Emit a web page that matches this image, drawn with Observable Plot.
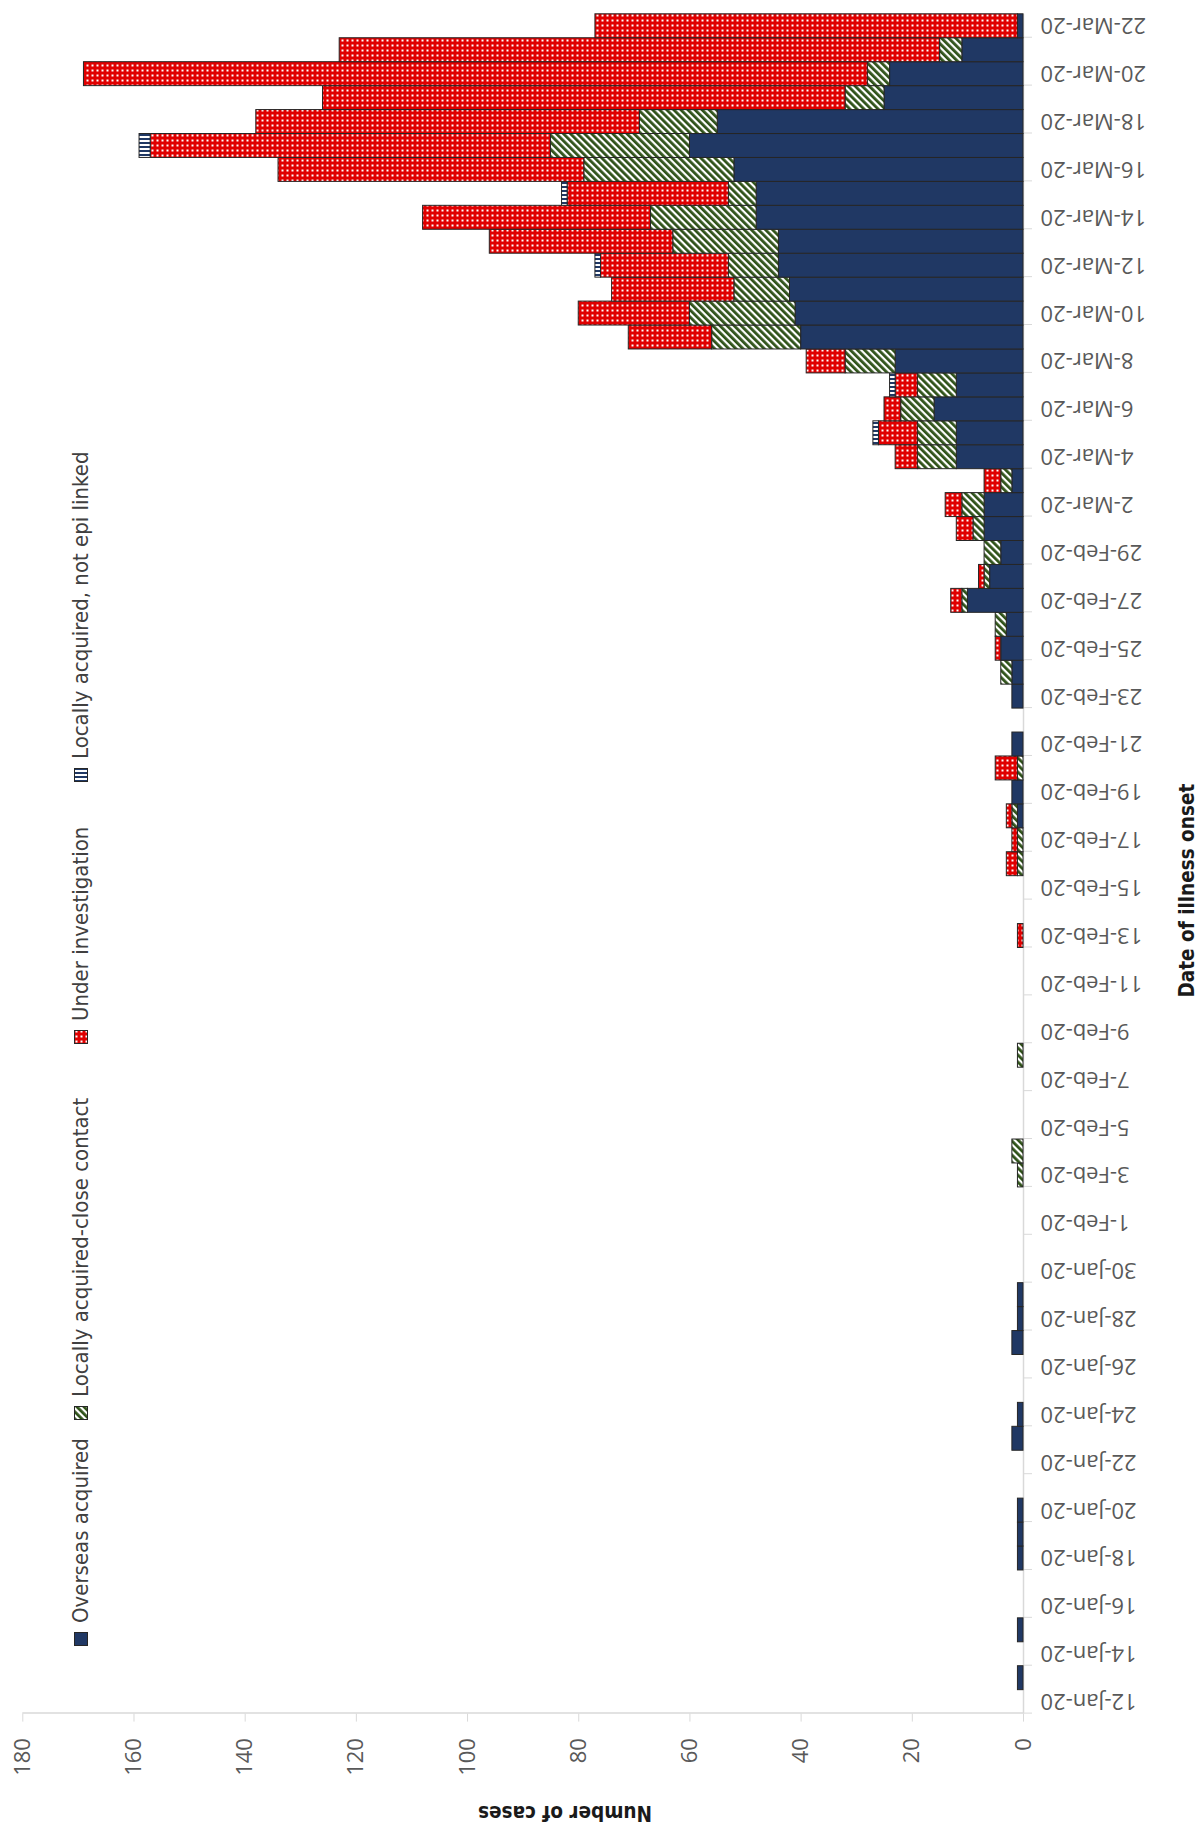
<!DOCTYPE html>
<html>
<head>
<meta charset="utf-8">
<script src="https://cdn.jsdelivr.net/npm/d3@7"></script>
<script src="https://cdn.jsdelivr.net/npm/@observablehq/plot@0.6"></script>
<style>
  html, body { margin: 0; padding: 0; background: #fff; width: 1200px; height: 1828px; overflow: hidden; }
  #stage { position: absolute; left: 0; top: 0; width: 1828px; height: 1200px; transform-origin: 0 0; transform: translate(0, 1828px) rotate(-90deg); background: #fff; }
  #chart { position: absolute; left: 0; top: 0; }
  .title { position: absolute; white-space: nowrap; font-family: "DejaVu Sans Condensed", "DejaVu Sans", sans-serif; font-weight: bold; font-size: 20.5px; line-height: 1; color: #1a1a1a; transform: translate(-50%, -50%); }
  #ytitle { transform: translate(-50%, -50%) rotate(-90deg); }
  .lg { position: absolute; display: flex; align-items: center; white-space: nowrap; font-family: "DejaVu Sans Condensed", "DejaVu Sans", sans-serif; font-size: 22px; line-height: 1; color: #404040; transform: translateY(-50%); }
  .lg svg { margin-right: 9px; flex: none; }
</style>
</head>
<body>
<div id="stage">
  <div id="chart"></div>
  <div id="legend"></div>
  <div class="title" id="ytitle">Number of cases</div>
  <div class="title" id="xtitle">Date of illness onset</div>
</div>
<script>
// ---- data (index 0 = 12-Jan-2020 ... index 70 = 22-Mar-2020) ----
const dates = [
  "2020-01-12","2020-01-13","2020-01-14","2020-01-15","2020-01-16","2020-01-17","2020-01-18","2020-01-19","2020-01-20","2020-01-21",
  "2020-01-22","2020-01-23","2020-01-24","2020-01-25","2020-01-26","2020-01-27","2020-01-28","2020-01-29","2020-01-30","2020-01-31",
  "2020-02-01","2020-02-02","2020-02-03","2020-02-04","2020-02-05","2020-02-06","2020-02-07","2020-02-08","2020-02-09","2020-02-10",
  "2020-02-11","2020-02-12","2020-02-13","2020-02-14","2020-02-15","2020-02-16","2020-02-17","2020-02-18","2020-02-19","2020-02-20",
  "2020-02-21","2020-02-22","2020-02-23","2020-02-24","2020-02-25","2020-02-26","2020-02-27","2020-02-28","2020-02-29","2020-03-01",
  "2020-03-02","2020-03-03","2020-03-04","2020-03-05","2020-03-06","2020-03-07","2020-03-08","2020-03-09","2020-03-10","2020-03-11",
  "2020-03-12","2020-03-13","2020-03-14","2020-03-15","2020-03-16","2020-03-17","2020-03-18","2020-03-19","2020-03-20","2020-03-21",
  "2020-03-22"
];
const overseasAcquired = [
  0,1,0,1,0,0,1,1,1,0,
  0,2,1,0,0,2,1,1,0,0,
  0,0,0,0,0,0,0,0,0,0,
  0,0,0,0,0,0,0,1,2,0,
  2,0,2,2,4,3,10,6,4,7,
  7,2,12,12,16,12,23,40,41,42,
  44,44,48,48,52,60,55,25,24,11,
  1
];
const closeContact = [
  0,0,0,0,0,0,0,0,0,0,
  0,0,0,0,0,0,0,0,0,0,
  0,0,1,2,0,0,0,1,0,0,
  0,0,0,0,0,1,1,1,0,1,
  0,0,0,2,0,2,1,1,3,2,
  4,2,7,7,6,7,9,16,19,10,
  9,19,19,5,27,25,14,7,4,4,
  0
];
const underInvestigation = [
  0,0,0,0,0,0,0,0,0,0,
  0,0,0,0,0,0,0,0,0,0,
  0,0,0,0,0,0,0,0,0,0,
  0,0,1,0,0,2,1,1,0,4,
  0,0,0,0,1,0,2,1,0,3,
  3,3,4,7,3,4,7,15,20,22,
  23,33,41,29,55,72,69,94,141,108,
  76
];
const notEpiLinked = [
  0,0,0,0,0,0,0,0,0,0,
  0,0,0,0,0,0,0,0,0,0,
  0,0,0,0,0,0,0,0,0,0,
  0,0,0,0,0,0,0,0,0,0,
  0,0,0,0,0,0,0,0,0,0,
  0,0,0,1,0,1,0,0,0,0,
  1,0,0,1,0,2,0,0,0,0,
  0
];
const seriesNames = [
  "Overseas acquired",
  "Locally acquired-close contact",
  "Under investigation",
  "Locally acquired, not epi linked"
];
const valueTicks = [0, 20, 40, 60, 80, 100, 120, 140, 160, 180];
const tickLabelFormat = "%-d-%b-%y";

// ---- build table ----
const seriesValues = [overseasAcquired, closeContact, underInvestigation, notEpiLinked];
const parse = d3.utcParse("%Y-%m-%d");
const dayStarts = dates.map(parse);
const table = [];
dayStarts.forEach((d0, i) => {
  const d1 = d3.utcDay.offset(d0, 1);
  seriesNames.forEach((name, k) => {
    const v = seriesValues[k][i];
    if (v > 0) table.push({d0, d1, cat: name, value: v});
  });
});
const tickDates = dayStarts.filter((d, i) => i % 2 === 0);
const labelDates = tickDates.map(d => d3.utcHour.offset(d, 12));
const fills = ["#203864", "url(#pGreen)", "url(#pRed)", "url(#pStripe)"];

const chart = Plot.plot({
  width: 1828,
  height: 1200,
  marginLeft: 114.4,
  marginRight: 13.8,
  marginTop: 22.3,
  marginBottom: 177,
  style: {fontFamily: "'Open Sans', sans-serif", background: "white", color: "#595959"},
  x: {type: "utc", domain: [dayStarts[0], d3.utcDay.offset(dayStarts[dayStarts.length - 1], 1)]},
  y: {domain: [0, 180]},
  color: {type: "ordinal", domain: seriesNames, range: fills},
  marks: [
    Plot.ruleY([0], {stroke: "#d9d9d9", strokeWidth: 1.5}),
    Plot.ruleX([dayStarts[0]], {stroke: "#d9d9d9", strokeWidth: 1.5}),
    Plot.axisY({ticks: valueTicks, tickSize: 8, tickPadding: 17, stroke: "#d9d9d9", fill: "#595959", fontSize: 22, label: null}),
    Plot.axisX({ticks: tickDates, tickSize: 9, tickFormat: () => "", stroke: "#d9d9d9", label: null}),
    Plot.axisX({ticks: labelDates, tickSize: 0, tickPadding: 17, tickRotate: -90, tickFormat: d3.utcFormat(tickLabelFormat), fill: "#595959", fontSize: 22, label: null}),
    Plot.rectY(table, {x1: "d0", x2: "d1", y: "value", fill: "cat", stroke: "#262626", strokeWidth: 1, inset: 0})
  ]
});

const ns = "http://www.w3.org/2000/svg";
const defs = document.createElementNS(ns, "defs");
defs.innerHTML = `
  <pattern id="pRed" width="5" height="5" patternUnits="userSpaceOnUse">
    <rect width="5" height="5" fill="#e00000"/>
    <rect x="1.5" y="1.5" width="2" height="2" fill="#ffffff"/>
  </pattern>
  <pattern id="pGreen" width="5" height="5" patternUnits="userSpaceOnUse" patternTransform="rotate(45)">
    <rect width="5" height="5" fill="#ffffff"/>
    <rect width="2.8" height="5" fill="#2f5219"/>
  </pattern>
  <pattern id="pStripe" width="4" height="4" patternUnits="userSpaceOnUse">
    <rect width="4" height="4" fill="#ffffff"/>
    <rect width="2" height="4" fill="#203864"/>
  </pattern>`;
chart.insertBefore(defs, chart.firstChild);
document.getElementById("chart").appendChild(chart);

// ---- legend (layout only) ----
const legendLeft = [182, 408, 784, 1046];
const legend = document.getElementById("legend");
seriesNames.forEach((name, k) => {
  const item = document.createElement("div");
  item.className = "lg";
  item.style.left = legendLeft[k] + "px";
  item.style.top = "80.5px";
  item.innerHTML = `<svg width="14" height="14"><rect x="0.5" y="0.5" width="13" height="13" fill="${fills[k]}" stroke="#262626" stroke-width="1"/></svg><span>${name}</span>`;
  legend.appendChild(item);
});

const yt = document.getElementById("ytitle");
yt.style.left = "14.5px"; yt.style.top = "564.6px";
const xt = document.getElementById("xtitle");
xt.style.left = "937.4px"; xt.style.top = "1186.5px";
</script>
</body>
</html>
